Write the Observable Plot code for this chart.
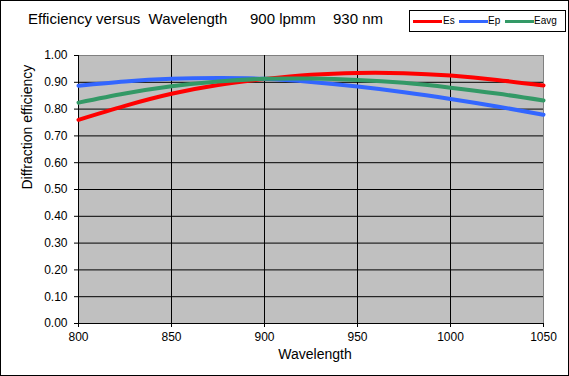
<!DOCTYPE html>
<html>
<head>
<meta charset="utf-8">
<script src="https://cdn.jsdelivr.net/npm/d3@7"></script>
<script src="https://cdn.jsdelivr.net/npm/@observablehq/plot@0.6"></script>
<style>
  html, body { margin: 0; padding: 0; background: white; }
  #wrap { position: relative; width: 569px; height: 376px; overflow: hidden; font-family: Arial, "Liberation Sans", sans-serif; }
  #border { position: absolute; left: 0; top: 0; width: 569px; height: 376px; box-sizing: border-box; border: 1px solid black; pointer-events: none; }
  .t { position: absolute; top: 9px; font-size: 15px; white-space: pre; color: black; line-height: 20px; }
  #legend { position: absolute; left: 409px; top: 10px; width: 157px; height: 22px; box-sizing: border-box; border: 1px solid black; background: white; }
  .lg-line { position: absolute; top: 9px; height: 3px; width: 29px; }
  .lg-text { position: absolute; top: 4px; font-size: 10px; line-height: 12px; color: black; }
</style>
</head>
<body>
<div id="wrap">
  <div id="chart"></div>
  <div class="t" style="left:28px">Efficiency versus  Wavelength</div>
  <div class="t" style="left:250px">900 lpmm</div>
  <div class="t" style="left:333px">930 nm</div>
  <div id="legend"></div>
  <div id="border"></div>
</div>
<script>
const wavelengths = [800, 825, 850, 875, 900, 925, 950, 975, 1000, 1025, 1050];
const Es   = [0.760, 0.812, 0.857, 0.890, 0.912, 0.928, 0.935, 0.934, 0.925, 0.909, 0.888];
const Ep   = [0.887, 0.903, 0.913, 0.916, 0.913, 0.901, 0.884, 0.863, 0.838, 0.810, 0.779];
const Eavg = [0.824, 0.858, 0.885, 0.903, 0.913, 0.914, 0.909, 0.898, 0.880, 0.858, 0.832];
const seriesNames = ["Es", "Ep", "Eavg"];
const seriesColors = ["#ff0000", "#3366ff", "#339966"];
const xTicks = [800, 850, 900, 950, 1000, 1050];
const yTicks = [0, 0.1, 0.2, 0.3, 0.4, 0.5, 0.6, 0.7, 0.8, 0.9, 1.0];

const seriesValues = [Es, Ep, Eavg];
const rows = [];
seriesNames.forEach((name, i) => {
  wavelengths.forEach((w, j) => rows.push({series: name, wavelength: w, value: seriesValues[i][j]}));
});

const chart = Plot.plot({
  width: 569,
  height: 376,
  marginLeft: 78,
  marginRight: 26,
  marginTop: 55,
  marginBottom: 53,
  style: {fontFamily: "Arial, 'Liberation Sans', sans-serif", fontSize: "12px", color: "black", background: "white"},
  x: {domain: [800, 1050], label: null},
  y: {domain: [0, 1], label: null},
  color: {domain: seriesNames, range: seriesColors},
  marks: [
    Plot.frame({fill: "#c0c0c0", stroke: "#808080"}),
    Plot.gridX(xTicks.slice(1, -1), {stroke: "black", strokeOpacity: 1}),
    Plot.gridY(yTicks.slice(1, -1), {stroke: "black", strokeOpacity: 1}),
    Plot.ruleX([800], {stroke: "black"}),
    Plot.ruleY([0], {stroke: "black"}),
    Plot.axisY(yTicks, {tickSize: 4, tickPadding: 7, tickFormat: d3.format(".2f"), fontSize: 12, label: null}),
    Plot.axisX(xTicks, {tickSize: 4, tickPadding: 5, tickFormat: d => String(d), fontSize: 12, label: null}),
    Plot.line(rows, {x: "wavelength", y: "value", z: "series", stroke: "series", strokeWidth: 4, curve: "natural"}),
    Plot.text(["Diffraction efficiency"], {frameAnchor: "left", dx: -51, rotate: -90, fontSize: 14, fill: "black"}),
    Plot.text(["Wavelength"], {frameAnchor: "bottom", dx: 4, dy: 35, fontSize: 14, fill: "black"})
  ]
});
document.getElementById("chart").appendChild(chart);

const legend = document.getElementById("legend");
const lgPos = [[3, 33], [49, 78], [95, 124]];
seriesNames.forEach((name, i) => {
  const l = document.createElement("div");
  l.className = "lg-line";
  l.style.left = lgPos[i][0] + "px";
  l.style.background = seriesColors[i];
  legend.appendChild(l);
  const t = document.createElement("div");
  t.className = "lg-text";
  t.style.left = lgPos[i][1] + "px";
  t.textContent = name;
  legend.appendChild(t);
});
</script>
</body>
</html>
